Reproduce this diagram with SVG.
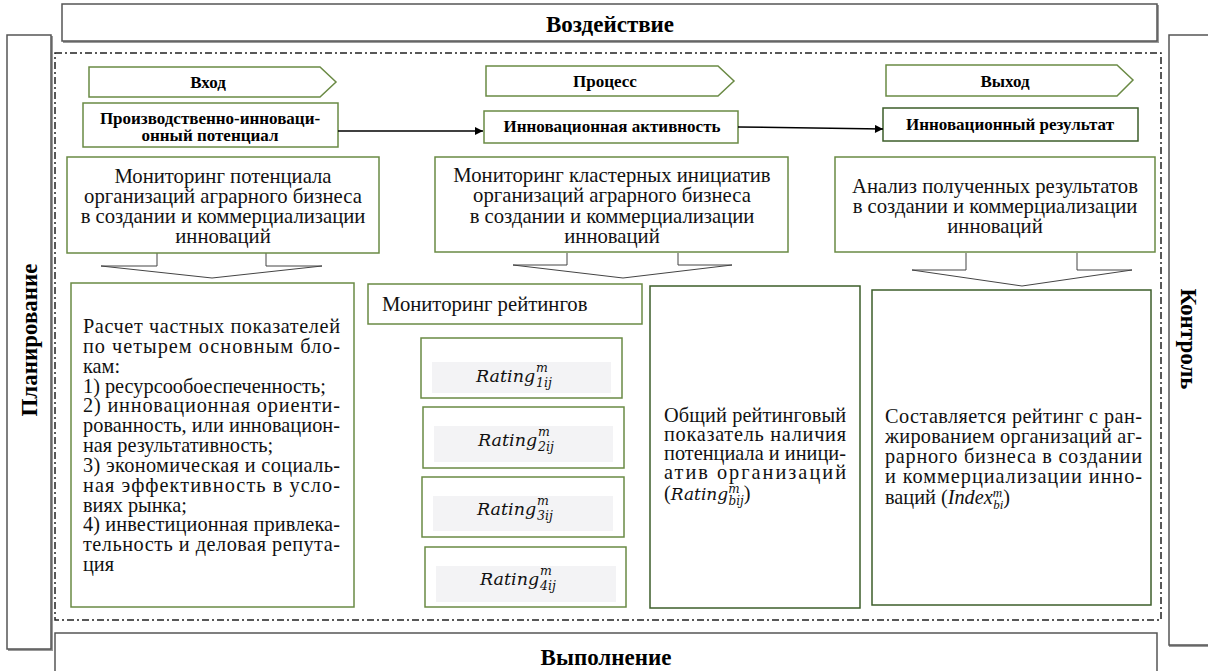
<svg xmlns="http://www.w3.org/2000/svg" width="1208" height="671" viewBox="0 0 1208 671">
<defs>
<marker id="arr" viewBox="0 0 10 10" refX="10" refY="5" markerWidth="10" markerHeight="8" markerUnits="userSpaceOnUse" orient="auto">
<path d="M0,0 L10,5 L0,10 z" fill="#000"/>
</marker>
</defs>
<style>
.hdr{fill:#fff;stroke:#555;stroke-width:1.5}
.shd{fill:none;stroke:#999;stroke-width:2}
.ht{font-family:"Liberation Serif",serif;font-weight:bold;font-size:23px;fill:#000}
.gb{fill:#fff;stroke:#6a8a44;stroke-width:1.5}
.db{fill:#fff;stroke:#3d5e2a;stroke-width:1.5}
.pent{fill:#fff;stroke:#6a8a44;stroke-width:1.5}
.bt{font-family:"Liberation Serif",serif;font-weight:bold;font-size:17px;fill:#000}
.t21{font-family:"Liberation Serif",serif;font-size:20.7px;fill:#111}
.tb{font-family:"Liberation Serif",serif;font-size:20.3px;fill:#111}
.mi{font-family:"DejaVu Serif",serif;font-style:italic;fill:#111}
.ti{font-family:"Liberation Serif",serif;font-style:italic}
.inner{fill:#f3f3f5;stroke:none}
.darr{fill:#fff;stroke:#444;stroke-width:1}
.frame{fill:none;stroke:#222;stroke-width:1.5;stroke-dasharray:7 3 2 3}
.conn{stroke:#000;stroke-width:1.5;fill:none}
</style>

<g id="frame">
<rect class="frame" x="55" y="53" width="1106" height="567"/>
</g>

<g id="vozdeistvie">
<polyline class="shd" points="63,42 1158,42 1158,5"/>
<rect class="hdr" x="62" y="4" width="1095" height="37"/>
<text class="ht" x="610" y="32" text-anchor="middle">Воздействие</text>
</g>

<g id="planirovanie">
<polyline class="shd" points="8,650 52,650 52,36"/>
<rect class="hdr" x="7" y="35" width="44" height="614"/>
<text class="ht" transform="translate(37,340) rotate(-90)" text-anchor="middle">Планирование</text>
</g>

<g id="kontrol">
<polyline class="shd" points="1169,646 1209,646"/>
<rect class="hdr" x="1169" y="35" width="45" height="610"/>
<text class="ht" transform="translate(1181,339) rotate(90)" text-anchor="middle" font-size="22">Контроль</text>
</g>

<g id="vypolnenie">
<rect class="hdr" x="55" y="633" width="1102" height="45"/>
<text class="ht" x="606" y="665" text-anchor="middle">Выполнение</text>
</g>

<g id="vhod">
<polygon class="pent" points="89,67 320,67 336,82 320,97 89,97"/>
<text class="bt" x="208" y="88" text-anchor="middle">Вход</text>
</g>
<g id="process">
<polygon class="pent" points="486,66 718,66 734,81 718,96 486,96"/>
<text class="bt" x="605" y="87" text-anchor="middle">Процесс</text>
</g>
<g id="vyhod">
<polygon class="pent" points="886,65 1117,65 1133,80 1117,96 886,96"/>
<text class="bt" x="1005" y="87" text-anchor="middle">Выход</text>
</g>

<g id="potencial">
<rect class="gb" x="83" y="103" width="255" height="44"/>
<text class="bt" font-size="16.5" x="210" y="124" text-anchor="middle">Производственно-инноваци-</text>
<text class="bt" font-size="16.5" x="210" y="141" text-anchor="middle">онный потенциал</text>
</g>
<g id="aktivnost">
<rect class="gb" x="484" y="111" width="254" height="32"/>
<text class="bt" x="612" y="132" text-anchor="middle">Инновационная активность</text>
</g>
<g id="rezultat">
<rect class="db" x="883" y="108" width="255" height="33"/>
<text class="bt" x="1010" y="130" text-anchor="middle">Инновационный результат</text>
</g>

<g id="connectors">
<line class="conn" x1="338" y1="131" x2="483" y2="131" marker-end="url(#arr)"/>
<line class="conn" x1="738" y1="127" x2="883" y2="129" marker-end="url(#arr)"/>
<path class="darr" d="M157,253 L157,266 L101,266 L212,278 L322,266 L266,266 L266,253"/>
<path class="darr" d="M567,253 L567,265 L513,265 L623,278 L732,265 L678,265 L678,253"/>
<path class="darr" d="M966,253 L966,270 L912,270 L1022,286 L1132,270 L1077,270 L1077,253"/>
</g>

<g id="mon-potenciala">
<rect class="gb" x="67" y="157" width="312" height="96"/>
<text class="t21" text-anchor="middle" x="223"><tspan x="223" y="183">Мониторинг потенциала</tspan><tspan x="223" y="203">организаций аграрного бизнеса</tspan><tspan x="223" y="223">в создании и коммерциализации</tspan><tspan x="223" y="243">инноваций</tspan></text>
</g>
<g id="mon-iniciativ">
<rect class="gb" x="435" y="157" width="353" height="95"/>
<text class="t21" text-anchor="middle" x="612"><tspan x="612" y="182">Мониторинг кластерных инициатив</tspan><tspan x="612" y="202">организаций аграрного бизнеса</tspan><tspan x="612" y="223">в создании и коммерциализации</tspan><tspan x="612" y="243">инноваций</tspan></text>
</g>
<g id="analiz">
<rect class="gb" x="835" y="157" width="320" height="95"/>
<text class="t21" text-anchor="middle" x="995"><tspan x="995" y="193">Анализ полученных результатов</tspan><tspan x="995" y="213">в создании и коммерциализации</tspan><tspan x="995" y="233">инноваций</tspan></text>
</g>

<g id="raschet">
<rect class="gb" x="71" y="283" width="283" height="324"/>
<text class="tb">
<tspan x="83" y="333" textLength="257" lengthAdjust="spacing">Расчет частных показателей</tspan>
<tspan x="83" y="352.8" textLength="257" lengthAdjust="spacing">по четырем основным бло-</tspan>
<tspan x="83" y="372.7">кам:</tspan>
<tspan x="83" y="392.5">1) ресурсообоеспеченность;</tspan>
<tspan x="83" y="412.3" textLength="257" lengthAdjust="spacing">2) инновационная ориенти-</tspan>
<tspan x="83" y="432.2" textLength="257" lengthAdjust="spacing">рованность, или инновацион-</tspan>
<tspan x="83" y="452">ная результативность;</tspan>
<tspan x="83" y="471.8" textLength="257" lengthAdjust="spacing">3) экономическая и социаль-</tspan>
<tspan x="83" y="491.6" textLength="257" lengthAdjust="spacing">ная эффективность в усло-</tspan>
<tspan x="83" y="511.5">виях рынка;</tspan>
<tspan x="83" y="531.3" textLength="257" lengthAdjust="spacing">4) инвестиционная привлека-</tspan>
<tspan x="83" y="551.1" textLength="257" lengthAdjust="spacing">тельность и деловая репута-</tspan>
<tspan x="83" y="571">ция</tspan>
</text>
</g>

<g id="mon-reitingov">
<rect class="gb" x="368" y="284" width="274" height="40"/>
<text class="t21" x="382" y="311">Мониторинг рейтингов</text>
</g>

<g id="rating1">
<rect class="gb" x="421" y="338" width="201" height="60"/>
<rect class="inner" x="432" y="362" width="179" height="31"/>
<text class="mi" x="476" y="382" font-size="17.5">Rating<tspan x="536" y="372" font-size="12.5">m</tspan><tspan x="536" y="387" font-size="12.5">1ij</tspan></text>
</g>
<g id="rating2">
<rect class="gb" x="423" y="407" width="201" height="61"/>
<rect class="inner" x="434" y="426" width="179" height="36"/>
<text class="mi" x="478" y="446" font-size="17.5">Rating<tspan x="538" y="436" font-size="12.5">m</tspan><tspan x="538" y="451" font-size="12.5">2ij</tspan></text>
</g>
<g id="rating3">
<rect class="gb" x="422" y="477" width="202" height="60"/>
<rect class="inner" x="433" y="496" width="180" height="35"/>
<text class="mi" x="477" y="515" font-size="17.5">Rating<tspan x="537" y="505" font-size="12.5">m</tspan><tspan x="537" y="520" font-size="12.5">3ij</tspan></text>
</g>
<g id="rating4">
<rect class="gb" x="425" y="547" width="201" height="60"/>
<rect class="inner" x="436" y="566" width="180" height="36"/>
<text class="mi" x="480" y="585" font-size="17.5">Rating<tspan x="540" y="575" font-size="12.5">m</tspan><tspan x="540" y="590" font-size="12.5">4ij</tspan></text>
</g>

<g id="obshchii">
<rect class="db" x="650" y="286" width="210" height="322"/>
<text class="tb">
<tspan x="664" y="422" textLength="182" lengthAdjust="spacing">Общий рейтинговый</tspan>
<tspan x="664" y="441" textLength="182" lengthAdjust="spacing">показатель наличия</tspan>
<tspan x="664" y="460" textLength="182" lengthAdjust="spacing">потенциала и иници-</tspan>
<tspan x="664" y="479" textLength="182" lengthAdjust="spacing">атив организаций</tspan>
<tspan x="664" y="500">(<tspan class="mi" font-size="17">Rating</tspan><tspan class="mi" font-size="12" dy="-7">m</tspan><tspan class="mi" font-size="12" dx="-11" dy="12">bij</tspan><tspan dy="-5">)</tspan></tspan>
</text>
</g>

<g id="reiting-index">
<rect class="db" x="872" y="290" width="279" height="315"/>
<text class="tb">
<tspan x="885" y="423" textLength="257" lengthAdjust="spacing">Составляется рейтинг с ран-</tspan>
<tspan x="885" y="443" textLength="257" lengthAdjust="spacing">жированием организаций аг-</tspan>
<tspan x="885" y="463" textLength="257" lengthAdjust="spacing">рарного бизнеса в создании</tspan>
<tspan x="885" y="483" textLength="257" lengthAdjust="spacing">и коммерциализации инно-</tspan>
<tspan x="885" y="504">ваций (<tspan class="ti">Index</tspan><tspan class="ti" font-size="13" dy="-7">m</tspan><tspan class="ti" font-size="13" dx="-9" dy="12">bi</tspan><tspan dy="-5">)</tspan></tspan>
</text>
</g>
</svg>
